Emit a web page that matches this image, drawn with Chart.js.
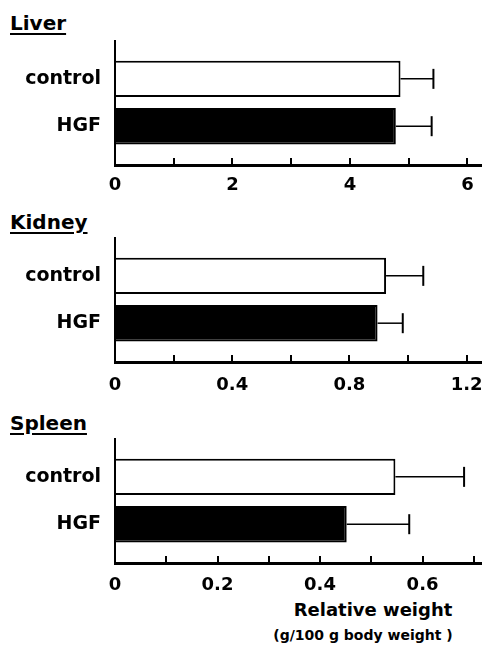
<!DOCTYPE html>
<html><head><meta charset="utf-8">
<script src="https://cdn.jsdelivr.net/npm/chart.js@4"></script>
<style>
html,body{margin:0;padding:0;background:#fff;}
body{width:482px;height:648px;position:relative;overflow:hidden;font-family:"DejaVu Sans",sans-serif;font-weight:bold;color:#000;}
.panel{position:absolute;left:0;width:512px;height:172px;}
.panel canvas{display:block;}
.title{position:absolute;left:10px;font-size:20px;line-height:20px;text-decoration:underline;text-decoration-thickness:2px;text-underline-offset:3px;}
.xt{position:absolute;text-align:center;white-space:nowrap;width:300px;}
</style></head><body>
<div class="title" style="top:13px">Liver</div>
<div class="panel" style="top:27px"><canvas id="c0" width="512" height="172"></canvas></div>
<div class="title" style="top:212px">Kidney</div>
<div class="panel" style="top:224px"><canvas id="c1" width="512" height="172"></canvas></div>
<div class="title" style="top:413px">Spleen</div>
<div class="panel" style="top:425px"><canvas id="c2" width="512" height="172"></canvas></div>
<div class="xt" style="left:223px;top:601px;font-size:18px;line-height:18px;">Relative weight</div>
<div class="xt" style="left:213px;top:628px;font-size:14px;line-height:14px;">(g/100 g body weight )</div>
<script>
const categories = ['control', 'HGF'];

const liverValues = [4.86, 4.78];
const liverErrors = [0.56, 0.61];
const kidneyValues = [0.925, 0.896];
const kidneyErrors = [0.127, 0.086];
const spleenValues = [0.547, 0.452];
const spleenErrors = [0.134, 0.122];

const liverTicks = [0, 1, 2, 3, 4, 5, 6];
const liverTickLabels = ['0', '', '2', '', '4', '', '6'];
const kidneyTicks = [0, 0.2, 0.4, 0.6, 0.8, 1.0, 1.2];
const kidneyTickLabels = ['0', '', '0.4', '', '0.8', '', '1.2'];
const spleenTicks = [0, 0.1, 0.2, 0.3, 0.4, 0.5, 0.6, 0.7];
const spleenTickLabels = ['0', '', '0.2', '', '0.4', '', '0.6', ''];

const liverMax = 6.23;
const kidneyMax = 1.249;
const spleenMax = 0.714;

const barColors = ['#ffffff', '#000000'];

Chart.defaults.font.family = "'DejaVu Sans', sans-serif";
Chart.defaults.font.weight = 'bold';
Chart.defaults.color = '#000';

const errorBarPlugin = {
  id: 'errorBars',
  afterDatasetsDraw(chart) {
    const ctx = chart.ctx;
    const xs = chart.scales.x;
    const meta = chart.getDatasetMeta(0);
    const ds = chart.data.datasets[0];
    ctx.save();
    ctx.strokeStyle = '#000';
    meta.data.forEach((bar, i) => {
      const v = ds.data[i].x;
      const xe = xs.getPixelForValue(v + ds.errors[i]);
      ctx.lineWidth = 1.5;
      ctx.beginPath(); ctx.moveTo(bar.x, bar.y); ctx.lineTo(xe, bar.y); ctx.stroke();
      ctx.lineWidth = 2;
      ctx.beginPath(); ctx.moveTo(xe, bar.y - 10); ctx.lineTo(xe, bar.y + 10); ctx.stroke();
    });
    ctx.restore();
  }
};

function makePanel(id, values, errors, max, tickVals, tickLabels, labelPad) {
  new Chart(document.getElementById(id), {
    type: 'bar',
    data: {
      datasets: [{
        data: values.map((v, i) => ({ x: v, y: i })),
        errors: errors,
        backgroundColor: barColors,
        borderColor: '#000',
        borderWidth: 2,
        categoryPercentage: 1,
        barPercentage: 0.77
      }]
    },
    options: {
      indexAxis: 'y',
      responsive: false,
      animation: false,
      layout: { padding: { top: 14, right: 31, bottom: 0, left: 0 } },
      plugins: { legend: { display: false }, tooltip: { enabled: false }, title: { display: false } },
      scales: {
        y: {
          type: 'linear',
          offset: false,
          reverse: true,
          min: -0.8,
          max: 1.82,
          afterBuildTicks: s => { s.ticks = categories.map((_, i) => ({ value: i })); },
          afterFit: s => { s.width = 115; },
          ticks: {
            padding: 0,
            font: { size: 19, weight: 'bold' },
            callback: v => categories[v]
          },
          grid: { display: false, offset: false, drawTicks: true, tickLength: 14 },
          border: { display: true, color: '#000', width: 2 }
        },
        x: {
          type: 'linear',
          min: 0,
          max: max,
          afterBuildTicks: s => { s.ticks = tickVals.map(v => ({ value: v })); },
          afterFit: s => { s.height = 34; },
          ticks: {
            autoSkip: false,
            maxRotation: 0,
            padding: labelPad,
            font: { size: 18, weight: 'bold' },
            callback: (v, i) => tickLabels[i]
          },
          grid: { display: true, drawOnChartArea: false, drawTicks: true, tickLength: -7, color: '#000', lineWidth: 2 },
          border: { display: true, color: '#000', width: 3 }
        }
      }
    },
    plugins: [errorBarPlugin]
  });
}

makePanel('c0', liverValues, liverErrors, liverMax, liverTicks, liverTickLabels, 17);
makePanel('c1', kidneyValues, kidneyErrors, kidneyMax, kidneyTicks, kidneyTickLabels, 19.5);
makePanel('c2', spleenValues, spleenErrors, spleenMax, spleenTicks, spleenTickLabels, 18.5);
</script>
</body></html>
